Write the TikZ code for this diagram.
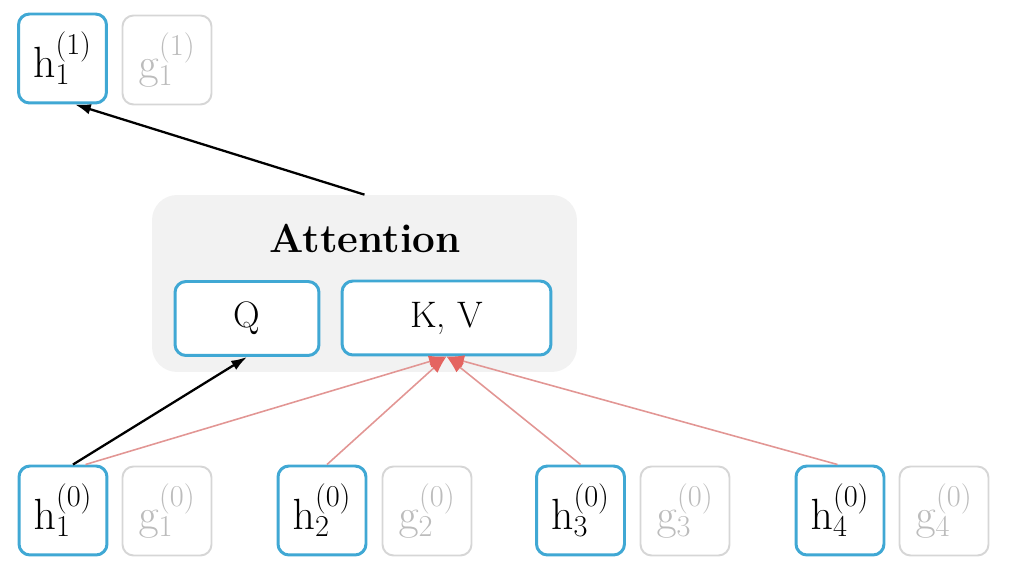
\documentclass[tikz,border=0pt]{standalone}
\usetikzlibrary{arrows.meta}
\definecolor{boxblue}{RGB}{64,168,212}
\definecolor{boxgray}{RGB}{214,214,214}
\definecolor{txtgray}{RGB}{188,188,188}
\definecolor{attbg}{RGB}{242,242,242}
\definecolor{redline}{RGB}{226,150,148}
\definecolor{redtip}{RGB}{228,100,96}
\begin{document}
\begin{tikzpicture}[x=0.02cm,y=-0.02cm,
  hbox/.style={draw=boxblue, line width=1.7pt, rounded corners=0.22cm, fill=white,
    minimum width=1.76cm, minimum height=1.78cm, inner sep=0pt,
    font=\fontsize{27}{31}\selectfont},
  gbox/.style={draw=boxgray, line width=1.1pt, rounded corners=0.22cm, fill=white,
    minimum width=1.78cm, minimum height=1.78cm, inner sep=0pt, text=txtgray,
    font=\fontsize{27}{31}\selectfont},
  inbox/.style={draw=boxblue, line width=1.7pt, rounded corners=0.22cm, fill=white,
    minimum height=1.48cm, inner sep=0pt, font=\fontsize{21}{25}\selectfont},
  attbox/.style={fill=attbg, rounded corners=0.5cm, minimum width=8.5cm,
    minimum height=3.54cm, inner sep=0pt},
  blk/.style={line width=1.3pt, -{Latex[length=9pt,width=6pt]}},
  red/.style={draw=redline, line width=0.9pt,
    -{Latex[length=10pt,width=7pt,color=redtip]}}
]
\useasboundingbox (0,0) rectangle (1012,570);

% attention block
\node[attbox] (att) at (364.5,283.5) {};
\node[font=\bfseries\fontsize{23}{27}\selectfont] (atitle) at (365,238) {Attention};
\node[inbox, minimum width=2.88cm] (q) at (247,318.5) {Q};
\node[inbox, minimum width=4.18cm] (kv) at (446.5,318) {K, V};

% top layer
\node[hbox] (h11) at (62.5,58.5) {$\mathrm{h}_1^{(1)}$};
\node[gbox] (g11) at (167,60) {$\mathrm{g}_1^{(1)}$};

% bottom layer
\node[hbox] (h10) at (63,510.5) {$\mathrm{h}_1^{(0)}$};
\node[gbox] (g10) at (167,511) {$\mathrm{g}_1^{(0)}$};
\node[hbox] (h20) at (322,510.5) {$\mathrm{h}_2^{(0)}$};
\node[gbox] (g20) at (427,511) {$\mathrm{g}_2^{(0)}$};
\node[hbox] (h30) at (580.5,510.5) {$\mathrm{h}_3^{(0)}$};
\node[gbox] (g30) at (685,511) {$\mathrm{g}_3^{(0)}$};
\node[hbox] (h40) at (840,510.5) {$\mathrm{h}_4^{(0)}$};
\node[gbox] (g40) at (944,511) {$\mathrm{g}_4^{(0)}$};

% connectors
\draw[blk] (att.north) -- ([xshift=0.25cm]h11.south);
\draw[blk] ([xshift=0.2cm]h10.north) -- (q.south);
\draw[red] ([xshift=0.45cm]h10.north) -- (kv.south);
\draw[red] ([xshift=0.1cm]h20.north) -- (kv.south);
\draw[red] (h30.north) -- (kv.south);
\draw[red] ([xshift=-0.05cm]h40.north) -- (kv.south);
\end{tikzpicture}
\end{document}
